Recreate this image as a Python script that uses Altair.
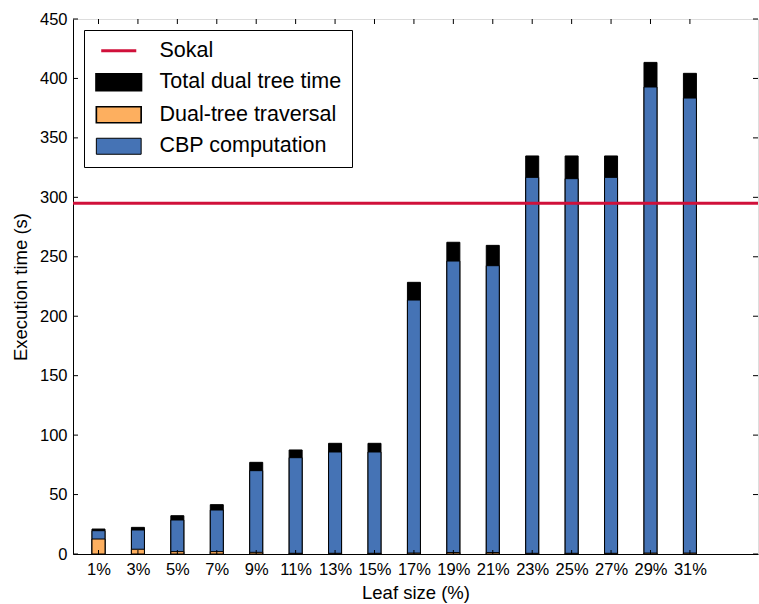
import json
import altair as alt
import pandas as pd

labels = ["1%", "3%", "5%", "7%", "9%", "11%", "13%", "15%", "17%", "19%", "21%", "23%", "25%", "27%", "29%", "31%"]
total = [21.0, 22.4, 32.2, 41.5, 77.1, 87.5, 93.1, 93.1, 228.5, 262.2, 259.6, 334.8, 334.8, 334.8, 413.5, 404.3]
traversal = [12.6, 4.0, 2.0, 2.0, 1.4, 0.6, 0.6, 0.6, 0.8, 1.2, 1.2, 0.6, 0.6, 0.6, 0.8, 0.8]
cbp = [7.0, 16.2, 26.6, 35.0, 68.7, 80.4, 85.2, 85.2, 212.8, 245.2, 241.3, 316.2, 315.1, 316.2, 392.0, 382.7]
sokal = 295.0
y_ticks = [0, 50, 100, 150, 200, 250, 300, 350, 400, 450]

series = ["Sokal", "Total dual tree time", "Dual-tree traversal", "CBP computation"]
colors = ["#d0103a", "#000000", "#fdaf5f", "#4573b5"]

FONT = "Liberation Sans"
W, H = 685, 535

rows = []
for i in range(len(labels)):
    rows.append({"idx": i, "series": "Total dual tree time", "value": total[i], "ord": 0})
for i in range(len(labels)):
    rows.append({"idx": i, "series": "CBP computation", "value": traversal[i] + cbp[i], "ord": 1})
for i in range(len(labels)):
    rows.append({"idx": i, "series": "Dual-tree traversal", "value": traversal[i], "ord": 2})
bars_df = pd.DataFrame(rows)

x_scale = alt.Scale(domain=[-0.52, 16.6], nice=False, zero=False)
y_scale = alt.Scale(domain=[0, 450], nice=False)

label_expr = json.dumps(labels) + "[datum.value]"

rect_path = "M-2.8,-1L2.8,-1L2.8,1L-2.8,1Z"
line_path = "M-2.19,0L2.19,0"

fill_scale = alt.Scale(domain=series, range=colors)
stroke_scale = alt.Scale(domain=series, range=[colors[0], "black", "black", "black"])
shape_scale = alt.Scale(domain=series, range=[line_path, rect_path, rect_path, rect_path])
sw_scale = alt.Scale(domain=series, range=[3, 1, 1, 1])

legend = alt.Legend(
    title=None,
    orient="none",
    legendX=11,
    legendY=11,
    symbolSize=256,
    symbolOpacity=1,
    symbolOffset=14,
    labelFont=FONT,
    labelFontSize=21.5,
    labelColor="black",
    labelOffset=30,
    labelLimit=400,
    rowPadding=7.5,
    padding=10,
    strokeColor="black",
    fillColor="white",
    cornerRadius=0,
)

bars = alt.Chart(bars_df).mark_bar(size=13, stroke="black", strokeWidth=1, opacity=1).encode(
    x=alt.X(
        "idx:Q",
        scale=x_scale,
        axis=alt.Axis(
            values=list(range(len(labels))),
            labelExpr=label_expr,
            ticks=False,
            tickSize=0,
            grid=False,
            domainColor="black",
            labelFont=FONT,
            labelFontSize=16.5,
            labelColor="black",
            labelPadding=7,
            title="Leaf size (%)",
            titleFont=FONT,
            titleFontSize=18.5,
            titleFontWeight="normal",
            titleColor="black",
            titlePadding=6,
        ),
    ),
    y=alt.Y(
        "value:Q",
        stack=None,
        scale=y_scale,
        axis=alt.Axis(
            values=y_ticks,
            ticks=False,
            tickSize=0,
            grid=False,
            domainColor="black",
            labelFont=FONT,
            labelFontSize=16.5,
            labelColor="black",
            labelPadding=6,
            title="Execution time (s)",
            titleFont=FONT,
            titleFontSize=18.5,
            titleFontWeight="normal",
            titleColor="black",
            titlePadding=9,
        ),
    ),
    fill=alt.Fill("series:N", scale=fill_scale, legend=legend),
    order=alt.Order("ord:Q"),
)

legend_layer = (
    alt.Chart(bars_df)
    .transform_filter("datum.idx < 0")
    .mark_point(filled=True, opacity=1)
    .encode(
        x=alt.X("idx:Q", scale=x_scale),
        y=alt.Y("value:Q", scale=y_scale),
        fill=alt.Fill("series:N", scale=fill_scale, legend=legend),
        stroke=alt.Stroke("series:N", scale=stroke_scale, legend=legend),
        shape=alt.Shape("series:N", scale=shape_scale, legend=legend),
        strokeWidth=alt.StrokeWidth("series:N", scale=sw_scale, legend=legend),
    )
)

sokal_rule = alt.Chart(pd.DataFrame({"value": [sokal]})).mark_rule(
    color=colors[0], strokeWidth=3
).encode(y=alt.Y("value:Q", scale=y_scale))

xt_df = pd.DataFrame({"idx": list(range(len(labels)))})
x_ticks_bottom = alt.Chart(xt_df).mark_rule(color="black", strokeWidth=1).encode(
    x=alt.X("idx:Q", scale=x_scale), y=alt.value(H), y2=alt.value(H - 4)
)
x_ticks_top = alt.Chart(xt_df).mark_rule(color="black", strokeWidth=1).encode(
    x=alt.X("idx:Q", scale=x_scale), y=alt.value(0), y2=alt.value(5)
)
yt_df = pd.DataFrame({"v": y_ticks})
y_ticks_left = alt.Chart(yt_df).mark_rule(color="black", strokeWidth=1).encode(
    y=alt.Y("v:Q", scale=y_scale), x=alt.value(0), x2=alt.value(5)
)
y_ticks_right = alt.Chart(yt_df).mark_rule(color="black", strokeWidth=1).encode(
    y=alt.Y("v:Q", scale=y_scale), x=alt.value(W), x2=alt.value(W - 5)
)

chart = (
    alt.layer(bars, x_ticks_bottom, sokal_rule, x_ticks_top, y_ticks_left, y_ticks_right, legend_layer)
    .properties(
        width=W,
        height=H,
        autosize=alt.AutoSizeParams(type="none"),
        padding={"left": 73, "top": 19, "right": 1, "bottom": 50},
    )
    .configure_view(stroke="black", strokeWidth=1)
    .configure(background="white")
)

chart.save("out.html", embed_options={"renderer": "svg", "actions": False})
